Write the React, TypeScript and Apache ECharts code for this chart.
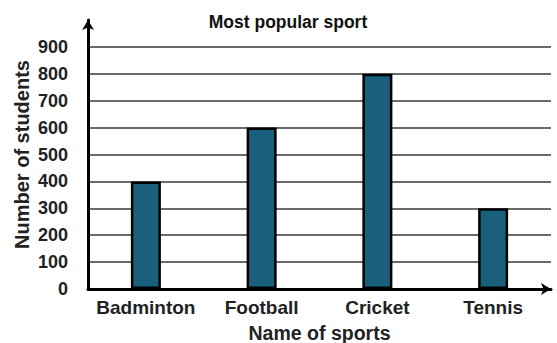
import React, { useEffect, useRef } from "react";
import * as echarts from "echarts";

const categories = ["Badminton", "Football", "Cricket", "Tennis"];
const students = [400, 600, 800, 300];
const yTicks = [0, 100, 200, 300, 400, 500, 600, 700, 800, 900];

const FONT = "'Liberation Sans', Arial, sans-serif";

export default function App() {
  const ref = useRef<HTMLDivElement>(null);
  useEffect(() => {
    if (!ref.current) return;
    const chart = echarts.init(ref.current, null, { renderer: "svg" });
    const splitColors = yTicks.map(() => "#6a6a6a").concat(["transparent"]);
    chart.setOption({
      animation: false,
      backgroundColor: "#fff",
      title: {
        text: "Most popular sport",
        left: 283,
        textAlign: "center",
        top: 8,
        textStyle: { fontFamily: FONT, fontWeight: "bold", fontSize: 17.5, color: "#111" },
      },
      grid: { left: 88, right: 6, top: 20, bottom: 54, containLabel: false, outerBoundsMode: "none" },
      xAxis: {
        type: "category",
        data: categories,
        name: "Name of sports",
        nameLocation: "middle",
        nameGap: 34,
        nameMoveOverlap: false,
        nameTextStyle: { fontFamily: FONT, fontWeight: "bold", fontSize: 19.5, color: "#222" },
        axisLine: {
          show: true,
          symbol: ["none", "arrow"],
          symbolSize: [9, 10],
          lineStyle: { color: "#000", width: 3 },
        },
        axisTick: { show: false },
        axisLabel: {
          interval: 0,
          fontFamily: FONT,
          fontWeight: "bold",
          fontSize: 19,
          color: "#222",
          margin: 9,
        },
      },
      yAxis: {
        type: "value",
        min: 0,
        max: 1000,
        interval: 100,
        name: "Number of students",
        nameLocation: "middle",
        nameGap: 56,
        nameMoveOverlap: false,
        nameTextStyle: { fontFamily: FONT, fontWeight: "bold", fontSize: 20, color: "#222" },
        axisLine: {
          show: true,
          symbol: ["none", "arrow"],
          symbolSize: [9, 10],
          lineStyle: { color: "#000", width: 3 },
        },
        axisTick: { show: false },
        axisLabel: {
          fontFamily: FONT,
          fontWeight: "bold",
          fontSize: 18,
          color: "#222",
          margin: 20,
          formatter: (v: number) => (yTicks.includes(v) ? String(v) : ""),
        },
        splitLine: { show: true, lineStyle: { color: splitColors, width: 1.8 } },
      },
      series: [
        {
          type: "bar",
          data: students,
          barWidth: 30,
          itemStyle: { color: "#19607d", borderColor: "#000", borderWidth: 2.5 },
        },
      ],
    });
    return () => chart.dispose();
  }, []);
  return <div ref={ref} style={{ width: 557, height: 343, position: "absolute", left: 0, top: 0 }} />;
}
